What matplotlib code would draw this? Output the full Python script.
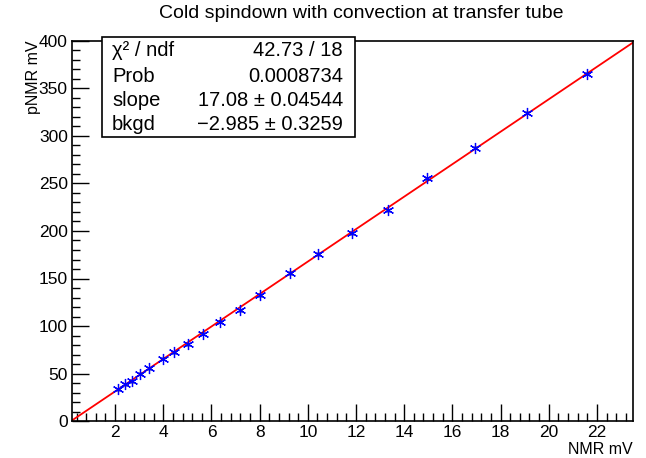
import numpy as np
import matplotlib
matplotlib.use('Agg')
import matplotlib.pyplot as plt
from matplotlib.ticker import MultipleLocator

plt.rcParams['font.family'] = ['Liberation Sans', 'DejaVu Sans']

# data
nmr = [2.14, 2.42, 2.69, 3.04, 3.42, 3.98, 4.46, 5.02, 5.63, 6.36, 7.19,
       8.02, 9.27, 10.43, 11.83, 13.32, 14.94, 16.95, 19.1, 21.6]
pnmr = [33.4, 38.6, 41.8, 49.5, 55.4, 65.6, 72.6, 80.7, 91.9, 104.5, 116.8,
        132.6, 155.8, 175.8, 197.5, 222.0, 255.5, 287.5, 324.5, 365.5]
slope = 17.08
bkgd = -2.985
stats_names = ['χ² / ndf', 'Prob', 'slope', 'bkgd']
stats_vals = ['42.73 / 18', '0.0008734', '17.08 ± 0.04544',
              '−2.985 ± 0.3259']

xmin, xmax = 0.21, 23.5
ymin, ymax = 0, 400

fig = plt.figure(figsize=(6.46, 4.58), dpi=100)
ax = fig.add_axes([72/646, 1 - 421/458, (633-72)/646, (421-41)/458])
ax.set_xlim(xmin, xmax)
ax.set_ylim(ymin, ymax)

# fit line across the full range
fx = np.array([xmin, xmax])
ax.plot(fx, slope * fx + bkgd, color='red', lw=1.3, zorder=2)

# data points: blue asterisks with tiny black error bars
ax.errorbar(nmr, pnmr, yerr=1.6, xerr=0.06, fmt='none', ecolor='black',
            elinewidth=1.8, zorder=3)
ax.plot(nmr, pnmr, linestyle='none', marker=(6, 2, 0), markersize=8,
        markeredgecolor='blue', markeredgewidth=0.9, zorder=4)

ax.xaxis.set_major_locator(MultipleLocator(2))
ax.xaxis.set_minor_locator(MultipleLocator(0.4))
ax.yaxis.set_major_locator(MultipleLocator(50))
ax.yaxis.set_minor_locator(MultipleLocator(10))
ax.tick_params(which='both', direction='in', top=False, right=False,
               labelsize=12.5, width=1)
ax.tick_params(which='major', length=12, pad=3)
ax.tick_params(which='minor', length=6)
ax.set_xticks([t for t in range(2, 24, 2)])
for sp in ax.spines.values():
    sp.set_linewidth(1.2)

ax.set_xlabel('NMR mV', fontsize=11.5, loc='right', labelpad=1)
ax.set_ylabel('pNMR mV', fontsize=11.5, loc='top', labelpad=-2)

fig.text(361/646, 1 - 14/458, 'Cold spindown with convection at transfer tube',
         ha='center', va='center', fontsize=14)

# stats box
bx0, bx1, by0, by1 = 102/646, 355/646, 1 - 137/458, 1 - 37/458
fig.patches.append(plt.Rectangle((bx0, by0), bx1 - bx0, by1 - by0,
                                 transform=fig.transFigure, fill=True,
                                 facecolor='white', edgecolor='black',
                                 lw=1.2, zorder=5))
rows_y = [50, 76, 100, 124]
for name, val, ry in zip(stats_names, stats_vals, rows_y):
    fig.text(112/646, 1 - ry/458, name, ha='left', va='center',
             fontsize=14.5, zorder=6)
    fig.text(343/646, 1 - ry/458, val, ha='right', va='center',
             fontsize=14.5, zorder=6)

fig.savefig('out.png', dpi=100)
